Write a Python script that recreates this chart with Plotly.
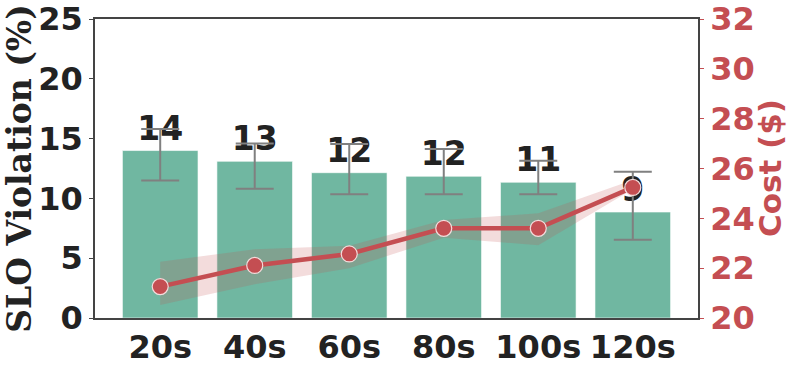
import plotly.graph_objects as go

categories = ["20s", "40s", "60s", "80s", "100s", "120s"]
violation = [14.0, 13.1, 12.15, 11.85, 11.35, 8.86]
violation_hi = [15.8, 14.6, 14.55, 14.13, 13.15, 12.23]
violation_lo = [11.5, 10.8, 10.35, 10.35, 10.35, 6.55]
cost = [21.26, 22.11, 22.57, 23.6, 23.6, 25.24]
cost_hi = [22.26, 22.76, 22.9, 23.93, 24.2, 25.54]
cost_lo = [20.52, 21.35, 22.0, 23.22, 22.92, 25.17]
y_ticks = [0, 5, 10, 15, 20, 25]
y2_ticks = [20, 22, 24, 26, 28, 30, 32]

RED = "#c44e52"
GREEN = "#70b7a1"
DARK = "#222222"
AXIS = "#444444"
xs = list(range(len(categories)))

fig = go.Figure()
fig.add_trace(go.Bar(
    x=xs, y=violation, width=0.8,
    marker=dict(color=GREEN, line=dict(color="rgba(255,255,255,0.6)", width=1)),
    error_y=dict(type="data", symmetric=False,
                 array=[h - v for h, v in zip(violation_hi, violation)],
                 arrayminus=[v - l for l, v in zip(violation_lo, violation)],
                 color="#808080", thickness=2, width=19),
    text=[str(round(v)) for v in violation], textposition="outside",
    textfont=dict(family="DejaVu Sans", size=33, color=DARK, weight="bold"),
    cliponaxis=False, showlegend=False,
))
fig.add_trace(go.Scatter(x=xs, y=cost_hi, yaxis="y2", mode="lines",
                         line=dict(width=0), showlegend=False, hoverinfo="skip"))
fig.add_trace(go.Scatter(x=xs, y=cost_lo, yaxis="y2", mode="lines",
                         line=dict(width=0), fill="tonexty",
                         fillcolor="rgba(196,78,82,0.2)", showlegend=False, hoverinfo="skip"))
fig.add_trace(go.Scatter(x=xs, y=cost, yaxis="y2", mode="lines+markers",
                         line=dict(color=RED, width=4.5),
                         marker=dict(size=16, color=RED, line=dict(color="#f4dcdc", width=1.2)),
                         showlegend=False))

tickfont = dict(family="DejaVu Sans", size=32, color=DARK, weight="bold")
fig.update_layout(
    width=793, height=365,
    margin=dict(l=95, r=95, t=19, b=47),
    paper_bgcolor="white", plot_bgcolor="white",
    bargap=0.2,
    xaxis=dict(range=[-0.69, 5.69], tickmode="array", tickvals=xs, ticktext=categories,
               tickfont=tickfont, showline=True, linecolor=AXIS, linewidth=1.5,
               mirror=True, showgrid=False, zeroline=False, ticks="", ticklabelstandoff=0,
               automargin=False),
    yaxis=dict(range=[0, 25], tickvals=y_ticks, tickfont=tickfont,
               showline=True, linecolor=AXIS, linewidth=1.5, showgrid=False, zeroline=False,
               ticks="outside", ticklen=4, tickcolor=AXIS, automargin=False,
               title=dict(text="SLO Violation (%)", standoff=8,
                          font=dict(family="DejaVu Serif", size=33, color=DARK, weight="bold"))),
    yaxis2=dict(range=[20, 32], tickvals=y2_ticks, overlaying="y", side="right",
                tickfont=dict(family="DejaVu Sans", size=32, color=RED, weight="bold"),
                showline=True, linecolor=AXIS, linewidth=1.5, showgrid=False, zeroline=False,
                ticks="outside", ticklen=4, tickcolor=RED, automargin=False),
    annotations=[dict(text="Cost ($)", textangle=-90, xref="paper", yref="paper",
                      x=(769.5 - 95) / 603, y=0.5, xanchor="center", yanchor="middle",
                      showarrow=False,
                      font=dict(family="DejaVu Sans", size=31, color=RED, weight="bold"))],
)
fig.write_html("out.html")
